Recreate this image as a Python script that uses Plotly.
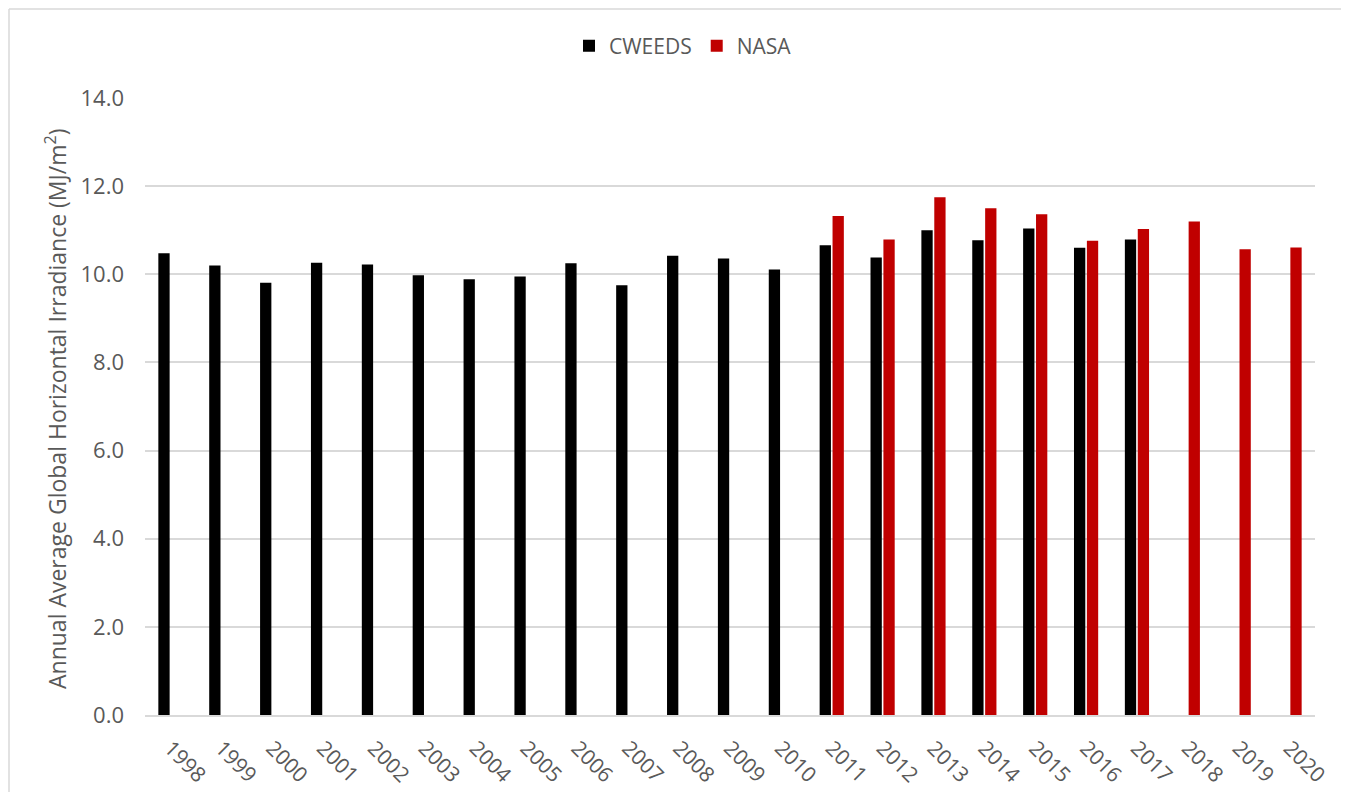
import plotly.graph_objects as go

years = [str(y) for y in range(1998, 2021)]
cweeds = [10.48, 10.20, 9.81, 10.26, 10.22, 9.98, 9.89, 9.95, 10.25, 9.75,
          10.42, 10.36, 10.11, 10.66, 10.38, 11.00, 10.77, 11.04, 10.60, 10.79,
          None, None, None]
nasa = [None] * 13 + [11.32, 10.79, 11.75, 11.50, 11.36, 10.76, 11.03,
                      11.20, 10.57, 10.61]
y_ticks = [0, 2, 4, 6, 8, 10, 12, 14]

FONT = "Open Sans"
GREY = "#595959"

# page body has an 8px margin; work in screen pixels and shift
OFF = 8
W, H = 1349 - 2 * OFF, 800 - 2 * OFF
PL, PR, PT, PB = 145, 1315, 98, 715          # plot area on screen
L, R, T, B = PL - OFF, W - (PR - OFF), PT - OFF, H - (PB - OFF)
pw, ph = W - L - R, H - T - B

def px_x(x):
    return (x - PL) / pw

def px_y(y):
    return (PB - y) / ph

fig = go.Figure()
fig.add_trace(go.Bar(x=years, y=cweeds, name="CWEEDS",
                     marker=dict(color="#000000", line=dict(width=0))))
fig.add_trace(go.Bar(x=years, y=nasa, name="NASA",
                     marker=dict(color="#c00000", line=dict(width=0))))

border = dict(color="#d9d9d9", width=1.5)
fig.update_layout(
    width=W, height=H,
    margin=dict(l=L, r=R, t=T, b=B, autoexpand=False),
    paper_bgcolor="white", plot_bgcolor="white",
    barmode="group", bargap=0.493, bargroupgap=0.124,
    font=dict(family=FONT, color=GREY, size=21),
    showlegend=True,
    legend=dict(orientation="h", x=px_x(683), y=px_y(46),
                xanchor="center", yanchor="middle",
                font=dict(family=FONT, size=21, color=GREY),
                itemwidth=30, traceorder="normal", bgcolor="rgba(0,0,0,0)"),
    xaxis=dict(type="category", tickangle=45, showgrid=False,
               showline=True, linecolor="#d9d9d9", linewidth=1.5,
               ticks="", ticklabelstandoff=11,
               tickfont=dict(family=FONT, size=21, color=GREY),
               automargin=False),
    yaxis=dict(range=[0, 14], tickvals=y_ticks, tickformat=".1f",
               showgrid=True, gridcolor="#d9d9d9", gridwidth=1.5,
               zeroline=False, showline=False, ticks="",
               ticklabelstandoff=20,
               tickfont=dict(family=FONT, size=22, color=GREY),
               automargin=False),
    annotations=[dict(text="Annual Average Global Horizontal Irradiance (MJ/m<sup>2</sup>)",
                      xref="paper", yref="paper", x=px_x(56), y=px_y(409),
                      xanchor="center", yanchor="middle", textangle=-90,
                      showarrow=False,
                      font=dict(family=FONT, size=23, color=GREY))],
    shapes=[
        dict(type="line", xref="paper", yref="paper",
             x0=px_x(OFF + 1), x1=px_x(OFF + 1), y0=px_y(900), y1=px_y(OFF + 1),
             line=border, layer="below"),
        dict(type="line", xref="paper", yref="paper",
             x0=px_x(OFF + 1), x1=px_x(1500), y0=px_y(OFF + 1), y1=px_y(OFF + 1),
             line=border, layer="below"),
    ],
)

fig.write_html("out.html")
